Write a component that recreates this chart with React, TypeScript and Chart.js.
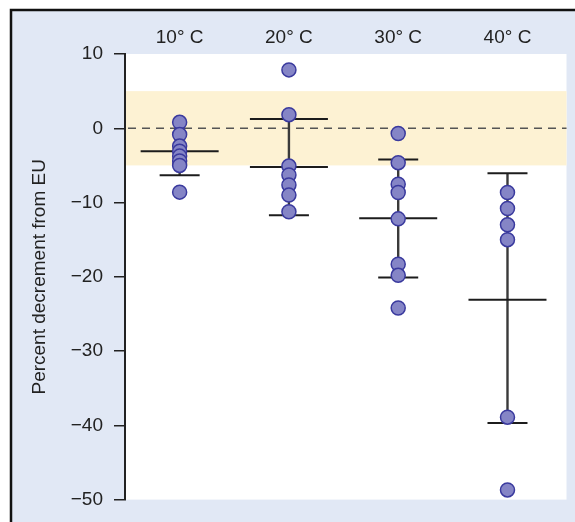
import React, { useEffect, useRef } from 'react';
import { Chart, registerables } from 'chart.js';

Chart.register(...registerables);

const categories = ['10° C', '20° C', '30° C', '40° C'];
const categoryPositions = [1, 2, 3, 4];

const values10C = [0.8, -0.85, -2.4, -3.1, -3.75, -4.4, -5.0, -8.6];
const values20C = [7.86, 1.83, -5.09, -6.29, -7.63, -9.0, -11.24];
const values30C = [-0.7, -4.63, -7.54, -8.65, -12.2, -18.3, -19.8, -24.2];
const values40C = [-8.65, -10.8, -13.0, -15.0, -38.9, -48.7];

const meanValues = [-3.08, -5.22, -12.1, -23.1];
const upperValues: (number | null)[] = [null, 1.26, -4.19, -6.06];
const lowerValues = [-6.33, -11.7, -20.1, -39.7];
const wideUpperCaps = ['20° C'];

const referenceBand = [-5, 5];
const yMin = -50;
const yMax = 10;
const yStep = 10;

const FONT = "'Liberation Sans', Arial, Helvetica, sans-serif";

export default function App() {
  const ref = useRef<HTMLCanvasElement | null>(null);

  useEffect(() => {
    if (!ref.current) return;
    const series = [values10C, values20C, values30C, values40C];
    const points = series.flatMap((vals, i) =>
      vals.map((v) => ({ x: categoryPositions[i], y: v }))
    );

    const decorPlugin = {
      id: 'decor',
      beforeDraw(chart: any) {
        const { ctx, width, height, chartArea: a, scales } = chart;
        const y = scales.y;
        ctx.save();
        ctx.fillStyle = '#ffffff';
        ctx.fillRect(0, 0, width, height);
        ctx.fillStyle = '#e1e8f5';
        ctx.fillRect(11, 10, width - 11, height - 10);
        ctx.strokeStyle = '#111111';
        ctx.lineWidth = 2.5;
        ctx.beginPath();
        ctx.moveTo(11, height);
        ctx.lineTo(11, 10);
        ctx.lineTo(width, 10);
        ctx.stroke();
        ctx.fillStyle = '#ffffff';
        ctx.fillRect(a.left, a.top, a.right - a.left, a.bottom - a.top);
        const bTop = y.getPixelForValue(referenceBand[1]);
        const bBot = y.getPixelForValue(referenceBand[0]);
        ctx.fillStyle = '#fdf2d3';
        ctx.fillRect(a.left, bTop, a.right - a.left, bBot - bTop);
        const y0 = y.getPixelForValue(0);
        ctx.setLineDash([8, 6]);
        ctx.strokeStyle = '#555555';
        ctx.lineWidth = 1.6;
        ctx.beginPath();
        ctx.moveTo(a.left + 3, y0);
        ctx.lineTo(a.right, y0);
        ctx.stroke();
        ctx.restore();
      },
      beforeDatasetsDraw(chart: any) {
        const { ctx, scales } = chart;
        const x = scales.x;
        const y = scales.y;
        ctx.save();
        for (let i = 0; i < categories.length; i++) {
          const cx = x.getPixelForValue(categoryPositions[i]);
          const top = upperValues[i] ?? meanValues[i];
          ctx.strokeStyle = '#3a3a3a';
          ctx.lineWidth = 2.4;
          ctx.beginPath();
          ctx.moveTo(cx, y.getPixelForValue(top));
          ctx.lineTo(cx, y.getPixelForValue(lowerValues[i]));
          ctx.stroke();
          ctx.strokeStyle = '#1c1c1c';
          ctx.lineWidth = 2;
          const hline = (v: number, half: number) => {
            const py = y.getPixelForValue(v);
            ctx.beginPath();
            ctx.moveTo(cx - half, py);
            ctx.lineTo(cx + half, py);
            ctx.stroke();
          };
          hline(meanValues[i], 39);
          const up = upperValues[i];
          if (up !== null) hline(up, wideUpperCaps.includes(categories[i]) ? 39 : 20);
          hline(lowerValues[i], 20);
        }
        ctx.restore();
      },
    };

    const chart = new Chart(ref.current, {
      type: 'scatter',
      data: {
        datasets: [
          {
            data: points,
            pointRadius: 7,
            pointHoverRadius: 7,
            pointBackgroundColor: '#8585c6',
            pointBorderColor: '#3a3a9e',
            pointBorderWidth: 1.5,
            showLine: false,
          },
        ],
      },
      options: {
        responsive: false,
        animation: false,
        layout: { padding: { left: 0, top: 0, right: 4, bottom: 20 } },
        plugins: { legend: { display: false }, tooltip: { enabled: false } },
        scales: {
          x: {
            type: 'linear',
            position: 'top',
            min: 0.5,
            max: 4.54,
            afterBuildTicks: (s: any) => {
              s.ticks = categoryPositions.map((v) => ({ value: v }));
            },
            afterFit: (s: any) => {
              s.height = 54;
            },
            grid: { display: false, drawTicks: false },
            border: { display: false },
            ticks: {
              color: '#222222',
              font: { family: FONT, size: 19 },
              padding: 5,
              callback: (v: any) => {
                const idx = categoryPositions.indexOf(Number(v));
                return idx >= 0 ? categories[idx] : '';
              },
            },
          },
          y: {
            min: yMin,
            max: yMax,
            afterFit: (s: any) => {
              s.width = 125;
            },
            ticks: {
              stepSize: yStep,
              color: '#222222',
              font: { family: FONT, size: 19 },
              padding: 11,
              callback: (v: any) => (Number(v) < 0 ? '\u2212' + Math.abs(Number(v)) : String(v)),
            },
            grid: { drawOnChartArea: false, tickLength: 11, color: '#222222', lineWidth: 1.5 },
            border: { color: '#222222', width: 2 },
            title: {
              display: true,
              text: 'Percent decrement from EU',
              color: '#222222',
              font: { family: FONT, size: 19 },
              padding: { top: 28, bottom: 0 },
            },
          },
        },
      },
      plugins: [decorPlugin],
    } as any);

    return () => chart.destroy();
  }, []);

  return (
    <div style={{ position: 'absolute', left: 0, top: 0, width: 575, height: 522 }}>
      <canvas ref={ref} width={575} height={522} style={{ display: 'block' }} />
    </div>
  );
}
